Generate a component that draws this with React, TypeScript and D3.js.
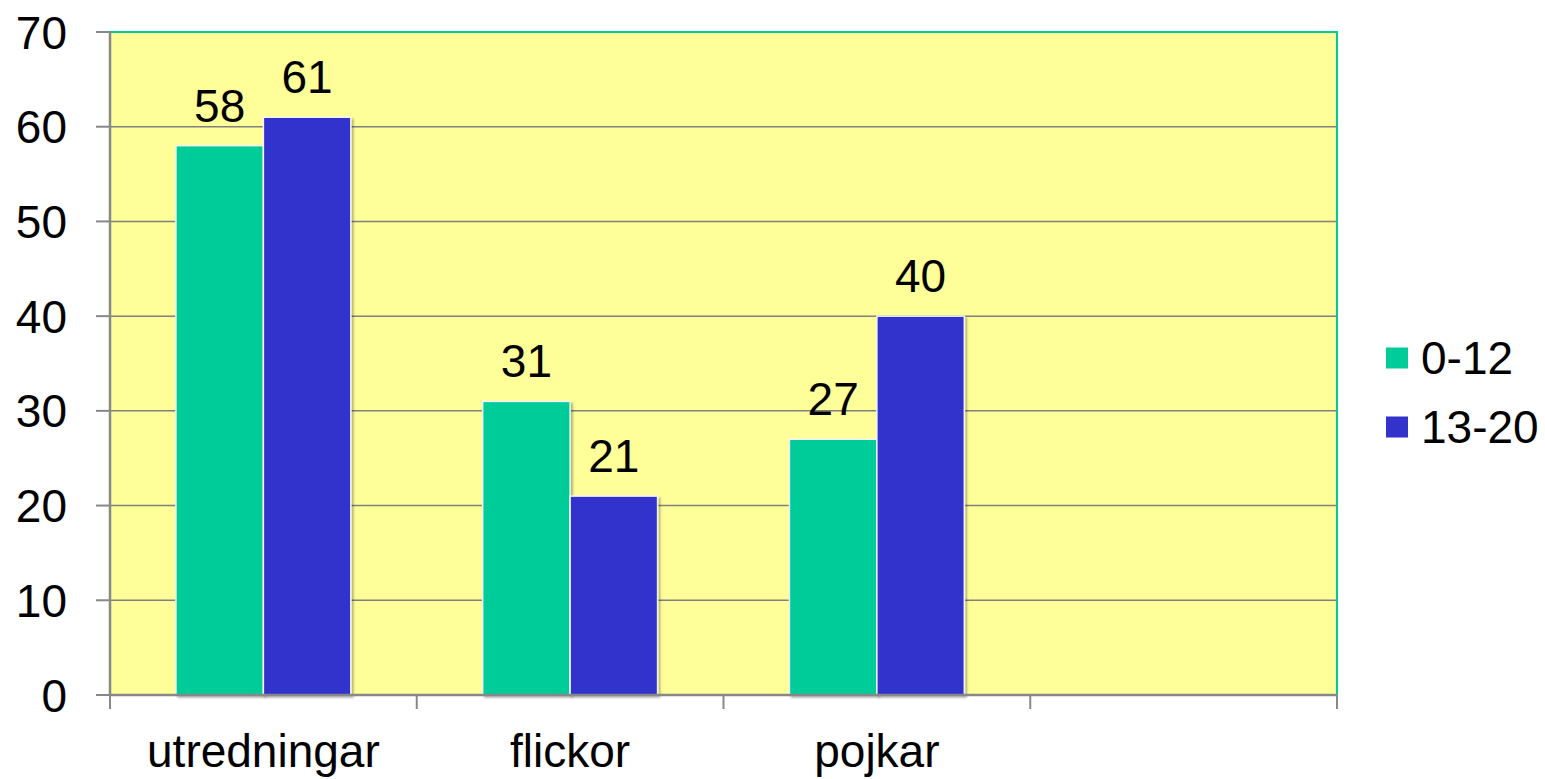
import React from "react";
import * as d3 from "d3";

const categories = ["utredningar", "flickor", "pojkar", ""];
const seriesNames = ["0-12", "13-20"];
const seriesColors = ["#00CC99", "#3333CC"];
const values0to12 = [58, 31, 27];
const values13to20 = [61, 21, 40];
const yTicks = [0, 10, 20, 30, 40, 50, 60, 70];

const W = 1545;
const H = 779;
const plot = { left: 110, right: 1337, top: 32, bottom: 695 };
const FONT = "'Liberation Sans', Arial, sans-serif";

export default function App() {
  const x0 = d3
    .scaleBand<string>()
    .domain(categories)
    .range([plot.left, plot.right])
    .paddingInner(0)
    .paddingOuter(0);
  const x1 = d3
    .scaleBand<string>()
    .domain(seriesNames)
    .range([0, x0.bandwidth()])
    .paddingInner(0)
    .paddingOuter(0.754);
  const y = d3.scaleLinear().domain([0, 70]).range([plot.bottom, plot.top]);

  const seriesValues = [values0to12, values13to20];
  const bars: { key: string; x: number; y: number; w: number; h: number; v: number; color: string }[] = [];
  categories.forEach((cat, ci) => {
    seriesNames.forEach((s, si) => {
      const v = seriesValues[si][ci];
      if (v === undefined) return;
      const bx = (x0(cat) ?? 0) + (x1(s) ?? 0);
      bars.push({
        key: `${ci}-${si}`,
        x: bx,
        y: y(v),
        w: x1.bandwidth(),
        h: y(0) - y(v),
        v,
        color: seriesColors[si],
      });
    });
  });

  const catBoundaries = categories.map((c) => x0(c) ?? 0).concat([plot.right]);

  return (
    <div style={{ position: "absolute", left: 0, top: 0 }}>
      <svg width={W} height={H} style={{ display: "block", background: "#fff" }}>
        <defs>
          <filter id="barShadow" x="-10%" y="-10%" width="130%" height="130%">
            <feDropShadow dx="2" dy="2" stdDeviation="1.2" floodColor="#000" floodOpacity="0.3" />
          </filter>
        </defs>
        {/* plot background */}
        <rect
          x={plot.left}
          y={plot.top}
          width={plot.right - plot.left}
          height={plot.bottom - plot.top}
          fill="#FFFF99"
        />
        {/* border top/right */}
        <path
          d={`M${plot.left},${plot.top}H${plot.right}V${plot.bottom}`}
          fill="none"
          stroke="#00CC99"
          strokeWidth={2}
        />
        {/* gridlines */}
        {yTicks.slice(1, -1).map((t) => (
          <line
            key={t}
            x1={plot.left}
            x2={plot.right}
            y1={y(t)}
            y2={y(t)}
            stroke="#808080"
            strokeWidth={1.5}
          />
        ))}
        {/* bars */}
        {bars.map((b) => (
          <rect
            key={b.key}
            x={b.x}
            y={b.y}
            width={b.w}
            height={b.h}
            fill={b.color}
            stroke="#F4F4F4"
            strokeWidth={1.5}
            filter="url(#barShadow)"
          />
        ))}
        {/* value labels */}
        {bars.map((b) => (
          <text
            key={"l" + b.key}
            x={b.x + b.w / 2}
            y={b.y - 24}
            textAnchor="middle"
            fontFamily={FONT}
            fontSize={46}
            fill="#000"
          >
            {b.v}
          </text>
        ))}
        {/* y axis */}
        <line x1={plot.left} x2={plot.left} y1={plot.top} y2={plot.bottom} stroke="#888" strokeWidth={2.5} />
        {yTicks.map((t) => (
          <g key={t}>
            <line x1={plot.left - 14} x2={plot.left} y1={y(t)} y2={y(t)} stroke="#888" strokeWidth={2} />
            <text
              x={67}
              y={y(t)}
              dy="0.36em"
              textAnchor="end"
              fontFamily={FONT}
              fontSize={46}
              fill="#000"
            >
              {t}
            </text>
          </g>
        ))}
        {/* x axis */}
        <line x1={plot.left} x2={plot.right} y1={plot.bottom} y2={plot.bottom} stroke="#888" strokeWidth={2.5} />
        {catBoundaries.map((bx, i) => (
          <line key={i} x1={bx} x2={bx} y1={plot.bottom} y2={plot.bottom + 14} stroke="#888" strokeWidth={2} />
        ))}
        {categories.map((c) => (
          <text
            key={c || "empty"}
            x={(x0(c) ?? 0) + x0.bandwidth() / 2}
            y={767}
            textAnchor="middle"
            fontFamily={FONT}
            fontSize={46}
            fill="#000"
          >
            {c}
          </text>
        ))}
        {/* legend */}
        {seriesNames.map((s, i) => (
          <g key={s} transform={`translate(1386, ${358 + i * 69})`}>
            <rect x={0} y={-10.5} width={22} height={21} fill={seriesColors[i]} />
            <text x={35} y={-1} dy="0.36em" fontFamily={FONT} fontSize={46} fill="#000">
              {s}
            </text>
          </g>
        ))}
      </svg>
    </div>
  );
}
